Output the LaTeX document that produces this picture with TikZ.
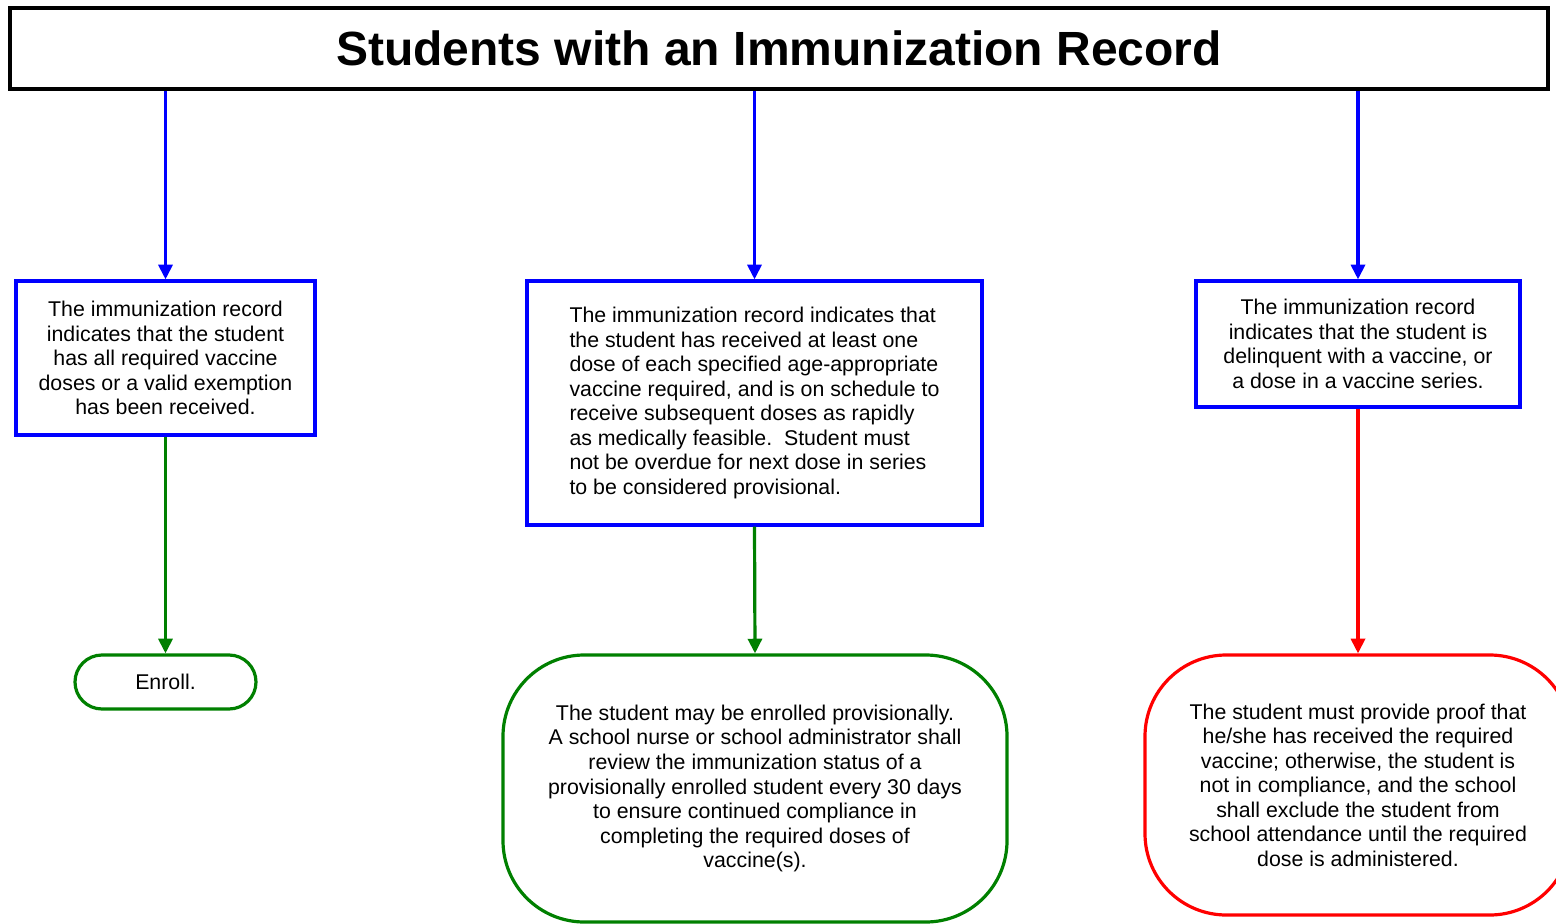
\documentclass[tikz,border=0pt]{standalone}
\usepackage{fontspec}
\setmainfont{Liberation Sans}
\usetikzlibrary{arrows.meta}
\definecolor{cblue}{RGB}{0,0,255}
\definecolor{cgreen}{RGB}{0,128,0}
\definecolor{cred}{RGB}{255,0,0}
\tikzset{
  bodytext/.style={font=\fontsize{16}{18.4}\selectfont, inner sep=0pt},
  titlebox/.style={draw=black, line width=2.4pt, minimum width=1153.5pt, minimum height=60.75pt, font=\fontsize{36}{40}\selectfont\bfseries, inner sep=0pt},
  bluebox/.style={bodytext, draw=cblue, line width=2.4pt, align=center},
  greenend/.style={bodytext, draw=cgreen, line width=2.4pt, align=center},
  redend/.style={bodytext, draw=cred, line width=2.4pt, align=center},
  arr/.style={line width=2.4pt, -{Triangle[width=10.5pt,length=11pt]}},
}
\begin{document}
\begin{tikzpicture}[x=0.75pt,y=-0.75pt]
\useasboundingbox (0,0) rectangle (1556,924);
\fill[white] (0,0) rectangle (1556,924);

\node[titlebox] (title) at (779,48.5) {Students with an Immunization Record};

\node[bluebox, minimum width=224.25pt, minimum height=115.5pt] (b1) at (165.5,358)
  {The immunization record\\indicates that the student\\has all required vaccine\\doses or a valid exemption\\has been received.};
\node[bluebox, minimum width=341.25pt, minimum height=183pt] (b2) at (754.5,403)
  {\parbox{277.5pt}{\raggedright The immunization record indicates that\\the student has received at least one\\dose of each specified age-appropriate\\vaccine required, and is on schedule to\\receive subsequent doses as rapidly\\as medically feasible.\ \ Student must\\not be overdue for next dose in series\\to be considered provisional.}};
\node[bluebox, minimum width=243pt, minimum height=94.5pt] (b3) at (1358,344)
  {The immunization record\\indicates that the student is\\delinquent with a vaccine, or\\a dose in a vaccine series.};

\node[greenend, minimum width=135.75pt, minimum height=40.5pt, rounded corners=20.25pt] (enroll) at (165.5,682) {Enroll.};
\node[greenend, minimum width=378pt, minimum height=200.25pt, rounded corners=61pt] (prov) at (755,788.5)
  {The student may be enrolled provisionally.\\A school nurse or school administrator shall\\review the immunization status of a\\provisionally enrolled student every 30 days\\to ensure continued compliance in\\completing the required doses of\\vaccine(s).};
\node[redend, minimum width=319.5pt, minimum height=195pt, rounded corners=61pt] (excl) at (1358,785)
  {The student must provide proof that\\he/she has received the required\\vaccine; otherwise, the student is\\not in compliance, and the school\\shall exclude the student from\\school attendance until the required\\dose is administered.};

\draw[arr, cblue] (title.south -| b1.north) -- (b1.north);
\draw[arr, cblue] (title.south -| b2.north) -- (b2.north);
\draw[arr, cblue] (title.south -| b3.north) -- (b3.north);
\draw[arr, cgreen] (b1.south) -- (enroll.north);
\draw[arr, cgreen] (b2.south) -- (prov.north);
\draw[arr, cred] (b3.south) -- (excl.north);
\end{tikzpicture}
\end{document}
